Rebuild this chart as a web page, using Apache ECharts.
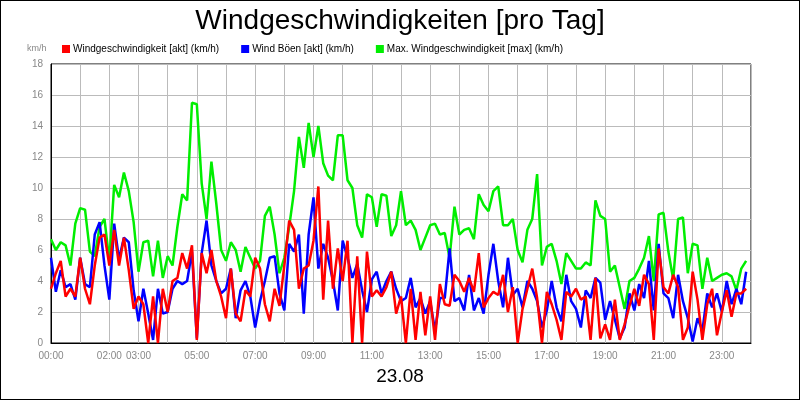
<!DOCTYPE html>
<html><head><meta charset="utf-8">
<script src="https://cdn.jsdelivr.net/npm/echarts@6/dist/echarts.min.js"></script>
<style>html,body{margin:0;padding:0;background:#fff}#c{width:798px;height:398px;border:1px solid #000}</style>
</head><body><div id="c"></div>
<script>
const shownHours = ['00','02','03','05','07','09','11','13','15','17','19','21','23'];
const yTicks = [0,2,4,6,8,10,12,14,16,18];
const wind = [
3.5,4.5,5.3,3.0,3.5,3.0, 5.5,3.5,2.5,5.0,6.8,7.0, 5.0,7.3,5.0,6.8,4.7,2.2, 3.0,2.5,0.0,3.0,0.0,3.5,
2.0,4.0,4.2,5.8,4.8,6.3, 0.2,5.8,4.5,6.0,4.0,3.0, 1.6,4.8,1.9,1.4,3.4,3.0, 5.5,4.8,2.5,1.4,3.5,2.4,
5.0,7.9,7.3,3.5,4.8,5.0, 6.6,10.1,2.8,7.9,3.5,6.1, 4.0,6.6,0.0,5.6,0.0,5.9, 3.0,3.4,3.0,3.6,4.6,1.9,
3.0,0.0,3.5,0.2,3.3,0.5, 3.0,0.2,3.8,2.5,2.4,4.4, 4.0,3.3,4.2,3.3,5.8,2.3, 2.9,3.3,3.1,4.4,2.0,3.6,
0.0,2.2,3.5,4.8,2.9,0.0, 3.3,2.5,1.5,0.2,3.3,3.0, 3.5,2.8,3.0,0.2,4.2,0.3, 1.2,0.2,2.8,0.2,1.2,2.4,
3.5,2.4,4.4,3.8,0.2,6.1, 3.6,3.2,4.4,3.6,0.2,1.0, 4.6,2.8,0.2,2.5,3.5,0.5, 2.0,3.4,1.7,3.2,3.2,3.5];
const gust = [
5.5,3.3,4.7,3.6,3.8,2.8, 5.5,3.8,3.6,7.0,7.8,5.0, 2.8,7.7,5.4,6.8,6.5,3.4, 1.4,3.5,1.9,0.2,3.5,1.9,
2.0,3.5,4.0,3.8,4.0,5.9, 0.3,5.8,7.9,5.0,4.0,3.2, 3.5,4.8,1.6,3.4,4.0,3.0, 1.0,2.7,4.0,5.5,5.6,3.2,
2.1,6.4,5.9,7.0,1.9,7.0, 9.4,4.8,6.4,5.5,4.0,2.1, 6.6,5.5,4.2,5.1,3.4,2.0, 4.1,4.6,3.2,4.0,4.6,3.5,
2.7,2.9,4.2,2.3,2.9,1.9, 2.7,0.8,2.9,2.9,6.1,2.7, 2.9,2.1,4.4,2.1,2.9,1.9, 4.4,6.4,4.0,2.3,5.5,3.1,
3.5,2.3,4.0,3.5,2.7,1.0, 2.1,4.0,2.3,1.4,4.4,2.7, 2.2,1.0,3.4,2.9,4.2,3.9, 1.5,2.7,1.5,0.3,1.0,3.2,
2.1,3.8,2.9,5.3,2.1,6.4, 3.2,2.9,1.6,4.4,2.7,1.6, 0.1,1.6,0.8,3.2,2.3,3.2, 2.0,4.0,2.5,3.5,2.5,4.6];
const maxWind = [
6.7,6.0,6.5,6.3,5.0,7.7, 8.7,8.6,5.9,5.6,7.5,8.0, 5.3,10.2,9.4,11.0,9.8,7.8, 4.6,6.5,6.6,4.3,6.6,4.2,
5.6,5.0,7.5,9.6,9.2,15.5, 15.4,10.3,8.0,11.7,9.0,6.0, 5.3,6.5,6.0,4.6,6.2,5.5, 4.8,5.3,8.2,8.8,7.0,4.5,
5.5,7.5,9.8,13.3,11.3,14.2, 12.0,14.0,11.6,10.8,10.5,13.4, 13.4,10.5,10.0,7.6,6.8,9.6, 9.4,7.5,9.6,9.5,6.9,7.6,
9.8,7.6,7.9,7.3,6.0,6.8, 7.6,7.7,7.0,7.1,5.5,8.8, 7.0,7.3,7.4,6.7,9.6,8.9, 8.5,9.8,10.1,7.6,7.6,8.0,
6.0,5.2,7.3,8.0,10.9,5.0, 6.2,6.4,5.3,3.8,5.8,5.3, 4.8,4.8,5.2,5.0,9.2,8.2, 8.0,4.6,5.0,3.6,2.2,4.0,
4.2,4.8,5.5,6.9,4.0,8.3, 8.4,5.9,4.1,8.0,8.1,4.5, 6.4,6.3,3.5,5.5,4.0,4.2, 4.4,4.5,4.3,3.4,4.8,5.3];
const times = [];
for (let h = 0; h < 24; h++) for (let m = 0; m < 60; m += 10)
  times.push(String(h).padStart(2,'0') + ':' + String(m).padStart(2,'0'));
times.push('24:00');
const chart = echarts.init(document.getElementById('c'));
const ser = (name, data, color) => ({name, type:'line', data, showSymbol:false, symbol:'none',
  lineStyle:{color, width:2.5}, itemStyle:{color}, animation:false});
chart.setOption({
  animation:false,
  title:{text:'Windgeschwindigkeiten [pro Tag]', left:'center', top:1,
    textStyle:{fontFamily:'Liberation Sans', fontSize:28, fontWeight:'normal', color:'#000'}},
  legend:{top:38, left:56, itemWidth:8, itemHeight:8, itemGap:22, icon:'rect',
    textStyle:{fontFamily:'Liberation Sans', fontSize:10, color:'#000', padding:[0,0,0,-2]},
    data:['Windgeschwindigkeit [akt] (km/h)','Wind Böen [akt] (km/h)','Max. Windgeschwindigkeit [max] (km/h)']},
  graphic:[
    {type:'text', left:26, top:43, style:{text:'km/h', fontSize:9, fill:'#888', fontFamily:'Liberation Sans'}},
    {type:'text', left:'center', top:366, style:{text:'23.08', fontSize:19, fill:'#000', fontFamily:'Liberation Sans'}}
  ],
  grid:{left:50, right:48, top:63, bottom:56, show:true, borderColor:'#000', borderWidth:1},
  xAxis:{type:'category', data:times, boundaryGap:false,
    axisLine:{lineStyle:{color:'#000'}}, axisTick:{show:false},
    axisLabel:{color:'#888', fontSize:10, fontFamily:'Liberation Sans', hideOverlap:false,
      interval:(i,v)=> i%6===0 && shownHours.includes(v.slice(0,2)) && v!=='24:00'},
    splitLine:{show:true, interval:(i)=> i%6===0, lineStyle:{color:'#bbb'}}},
  yAxis:{type:'value', min:yTicks[0], max:yTicks[yTicks.length-1], interval:2,
    axisLine:{show:true, lineStyle:{color:'#000'}},
    axisLabel:{color:'#888', fontSize:10, fontFamily:'Liberation Sans'},
    splitLine:{lineStyle:{color:'#bbb'}}},
  series:[
    ser('Max. Windgeschwindigkeit [max] (km/h)', maxWind, '#00ee00'),
    ser('Wind Böen [akt] (km/h)', gust, '#0000ff'),
    ser('Windgeschwindigkeit [akt] (km/h)', wind, '#ff0000')
  ]
});
</script></body></html>
